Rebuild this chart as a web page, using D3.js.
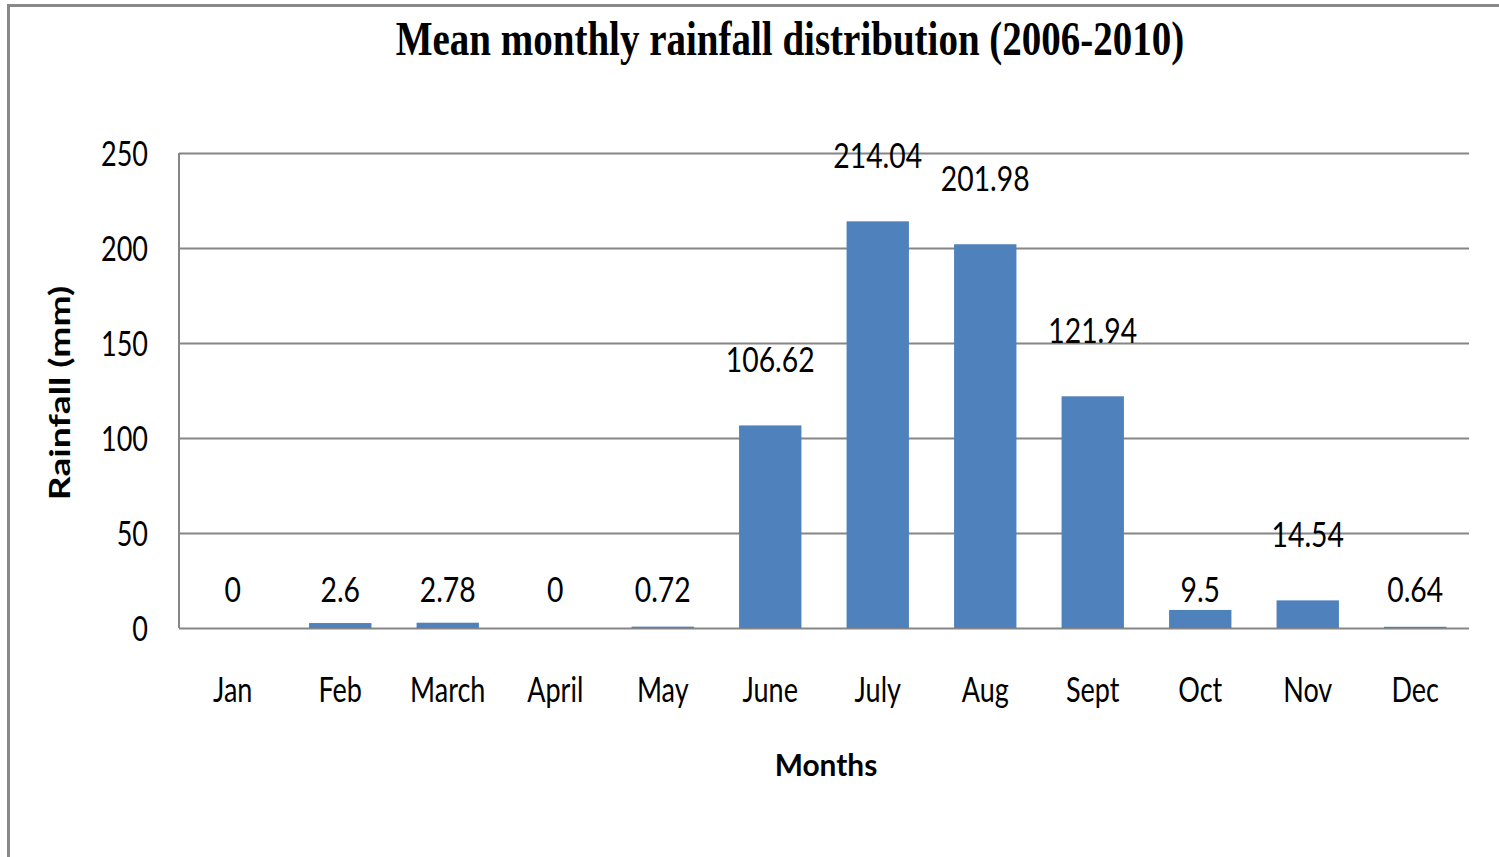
<!DOCTYPE html>
<html>
<head>
<meta charset="utf-8">
<script src="https://cdn.jsdelivr.net/npm/d3@7"></script>
<style>
  body { margin: 0; background: #fff; }
  svg { display: block; }
</style>
</head>
<body>
<script>
// Mean monthly rainfall, column chart
var months = ['Jan', 'Feb', 'March', 'April', 'May', 'June', 'July', 'Aug', 'Sept', 'Oct', 'Nov', 'Dec'];
var rainfall = [0, 2.6, 2.78, 0, 0.72, 106.62, 214.04, 201.98, 121.94, 9.5, 14.54, 0.64];
var yTicks = [0, 50, 100, 150, 200, 250];

var w = 1499;
var h = 857;
var margin = { top: 153, left: 179, right: 30, bottom: 229 };
var innerW = w - margin.left - margin.right;
var innerH = h - margin.top - margin.bottom;

var svg = d3.select('body').append('svg').attr('width', w).attr('height', h);

// outer chart border (only top and left show)
svg.append('rect')
  .attr('x', 8.5).attr('y', 5.5)
  .attr('width', w + 20).attr('height', h + 20)
  .attr('fill', 'none')
  .attr('stroke', '#888')
  .attr('stroke-width', 3);

var x = d3.scaleBand().domain(months).range([0, innerW]).paddingInner(0.42).paddingOuter(0.21);
var y = d3.scaleLinear().domain([0, 250]).range([innerH, 0]);

var g = svg.append('g').attr('transform', 'translate(' + margin.left + ',' + margin.top + ')');

// gridlines + y labels
var yAxis = g.append('g').call(d3.axisLeft(y).tickValues(yTicks).tickSize(-innerW).tickPadding(31));
yAxis.select('.domain').remove();
yAxis.selectAll('line').attr('stroke', '#868686').attr('stroke-width', 2);
yAxis.selectAll('text')
  .attr('font-family', 'Lato, "Open Sans", sans-serif')
  .attr('font-size', '27px')
  .attr('fill', '#000')
  .attr('dy', '0.36em')
  .attr('transform', 'scale(1,1.28)');

// left axis line
g.append('line')
  .attr('x1', 0).attr('x2', 0).attr('y1', 0).attr('y2', innerH)
  .attr('stroke', '#868686').attr('stroke-width', 2);

// bars
g.selectAll('rect.bar').data(rainfall).enter()
  .append('rect')
  .attr('class', 'bar')
  .attr('x', function(d, i) { return x(months[i]); })
  .attr('y', function(d) { return y(d); })
  .attr('width', x.bandwidth())
  .attr('height', function(d) { return innerH - y(d); })
  .attr('fill', '#4F81BD');

// helper for the tall, narrow text look
function label(parent, tx, ty, str, size, weight, family, sx, sy) {
  return parent.append('g')
    .attr('transform', 'translate(' + tx + ',' + ty + ') scale(' + sx + ',' + sy + ')')
    .append('text')
    .attr('text-anchor', 'middle')
    .attr('dy', '0.36em')
    .attr('font-family', family)
    .attr('font-size', size + 'px')
    .attr('font-weight', weight)
    .attr('fill', '#000')
    .text(str);
}

var sans = 'Lato, "Open Sans", sans-serif';

// value labels
rainfall.forEach(function(d, i) {
  var cx = x(months[i]) + x.bandwidth() / 2;
  var ly = d < 10 ? y(0) - 38 : y(d) - 66;
  label(g, cx, ly, String(d), 27, 'normal', sans, 1.05, 1.28);
});

// month labels
months.forEach(function(m) {
  label(g, x(m) + x.bandwidth() / 2, innerH + 62, m, 27, 'normal', sans, 1, 1.28);
});

// axis titles
label(svg, 826, 765, 'Months', 26, 'bold', sans, 1.15, 1.2);
svg.append('g')
  .attr('transform', 'translate(60,393) rotate(-90) scale(1.38,1.05)')
  .append('text')
  .attr('text-anchor', 'middle')
  .attr('dy', '0.36em')
  .attr('font-family', sans)
  .attr('font-size', '27px')
  .attr('font-weight', 'bold')
  .attr('fill', '#000')
  .text('Rainfall (mm)');

// title
label(svg, 790, 38, 'Mean monthly rainfall distribution (2006-2010)', 39, 'bold',
  '"Liberation Serif", "Times New Roman", serif', 1, 1.22);
</script>
</body>
</html>
